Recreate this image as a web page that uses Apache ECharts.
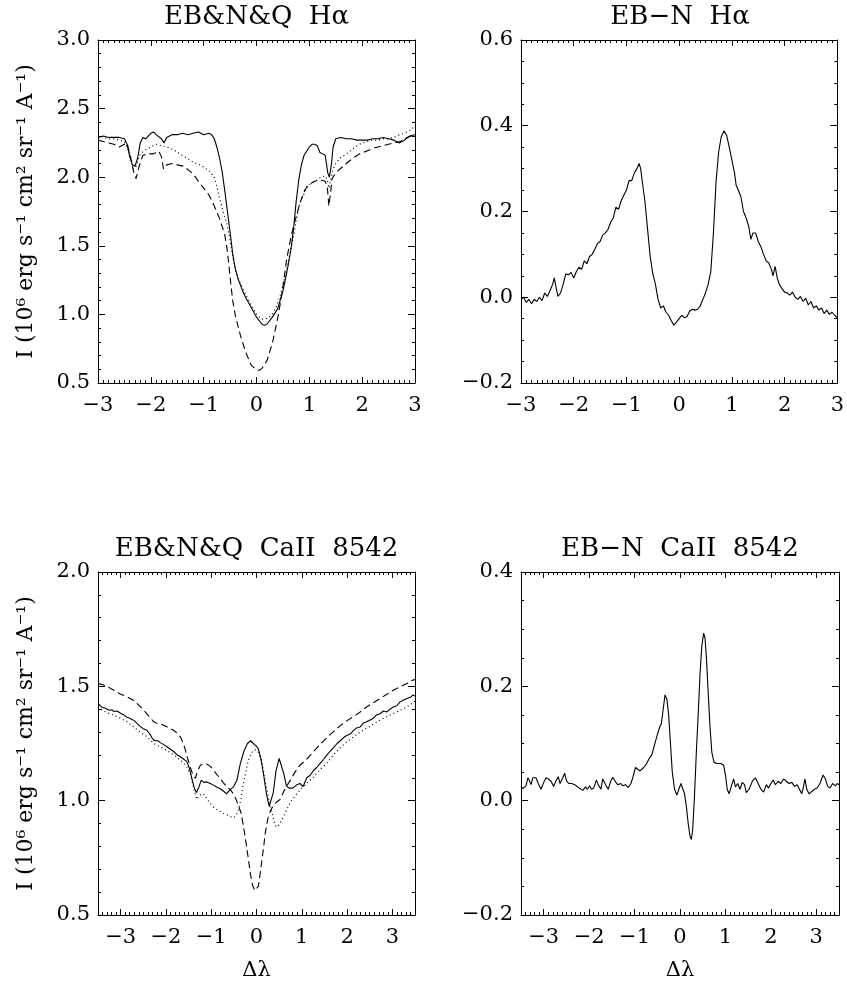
<!DOCTYPE html>
<html>
<head>
<meta charset="utf-8">
<script src="https://cdn.jsdelivr.net/npm/echarts@6/dist/echarts.min.js"></script>
<style>
html,body{margin:0;padding:0;background:#fff;}
#chart{width:847px;height:982px;}
</style>
</head>
<body>
<div id="chart"></div>
<script>
// ---------- DATA ----------
const TITLES = ['EB&N&Q  H\u03b1', 'EB\u2212N  H\u03b1', 'EB&N&Q  CaII  8542', 'EB\u2212N  CaII  8542'];
const Y_NAME = 'I (10\u2076 erg s\u207b\u00b9 cm\u00b2 sr\u207b\u00b9 A\u207b\u00b9)';
const X_NAME = '\u0394\u03bb';

const X_TICKS_HA = [-3, -2, -1, 0, 1, 2, 3];
const X_TICKS_CA = [-3, -2, -1, 0, 1, 2, 3];
const Y_TICKS_HA = [0.5, 1.0, 1.5, 2.0, 2.5, 3.0];
const Y_TICKS_HA_DIFF = [-0.2, 0.0, 0.2, 0.4, 0.6];
const Y_TICKS_CA = [0.5, 1.0, 1.5, 2.0];
const Y_TICKS_CA_DIFF = [-0.2, 0.0, 0.2, 0.4];

// Halpha: EB (solid), N (dotted), Q (dashed)
const HA_SOLID = [
[-3.0,2.29],[-2.9,2.30],[-2.8,2.29],[-2.7,2.29],[-2.6,2.29],[-2.5,2.28],[-2.45,2.24],[-2.4,2.15],[-2.35,2.09],[-2.3,2.08],
[-2.25,2.14],[-2.2,2.25],[-2.15,2.29],[-2.1,2.28],[-2.0,2.32],[-1.95,2.33],[-1.9,2.31],[-1.8,2.28],[-1.75,2.25],[-1.7,2.29],
[-1.6,2.31],[-1.5,2.31],[-1.4,2.32],[-1.3,2.31],[-1.2,2.32],[-1.1,2.33],[-1.0,2.31],[-0.9,2.32],[-0.85,2.31],[-0.8,2.28],
[-0.75,2.22],[-0.7,2.14],[-0.65,2.04],[-0.6,1.90],[-0.55,1.75],[-0.5,1.60],[-0.45,1.44],[-0.4,1.33],[-0.35,1.26],[-0.3,1.21],
[-0.25,1.16],[-0.2,1.12],[-0.1,1.05],[0.0,0.98],[0.1,0.93],[0.15,0.92],[0.2,0.93],[0.3,0.98],[0.4,1.04],[0.5,1.17],
[0.55,1.26],[0.6,1.36],[0.65,1.47],[0.7,1.62],[0.75,1.82],[0.8,1.98],[0.85,2.09],[0.9,2.16],[1.0,2.22],[1.05,2.24],
[1.1,2.24],[1.15,2.23],[1.2,2.18],[1.25,2.17],[1.3,2.16],[1.35,2.03],[1.38,2.00],[1.42,2.10],[1.45,2.22],[1.5,2.28],
[1.6,2.29],[1.7,2.28],[1.8,2.28],[1.9,2.27],[2.0,2.27],[2.1,2.27],[2.2,2.28],[2.3,2.28],[2.4,2.29],[2.5,2.28],
[2.6,2.27],[2.7,2.25],[2.8,2.27],[2.9,2.30],[3.0,2.31]
];
const HA_DOTTED = [
[-3.0,2.31],[-2.9,2.29],[-2.8,2.28],[-2.7,2.28],[-2.6,2.27],[-2.5,2.26],[-2.4,2.18],[-2.33,2.06],[-2.28,2.08],[-2.2,2.17],
[-2.1,2.20],[-2.0,2.22],[-1.9,2.24],[-1.8,2.23],[-1.7,2.22],[-1.57,2.20],[-1.45,2.17],[-1.32,2.14],[-1.2,2.11],[-1.07,2.09],
[-0.95,2.06],[-0.88,2.04],[-0.8,2.00],[-0.75,1.93],[-0.7,1.85],[-0.62,1.73],[-0.56,1.66],[-0.5,1.54],[-0.44,1.40],[-0.38,1.30],
[-0.31,1.23],[-0.2,1.14],[-0.12,1.08],[0.0,1.00],[0.1,0.965],[0.2,0.97],[0.3,1.00],[0.38,1.06],[0.45,1.14],[0.5,1.21],
[0.57,1.32],[0.63,1.44],[0.7,1.57],[0.76,1.70],[0.82,1.81],[0.9,1.88],[0.95,1.93],[1.05,1.96],[1.14,1.98],[1.22,2.00],
[1.3,2.01],[1.34,1.98],[1.37,1.92],[1.4,1.97],[1.45,2.06],[1.5,2.10],[1.58,2.14],[1.7,2.17],[1.8,2.20],[1.95,2.24],
[2.08,2.26],[2.2,2.27],[2.3,2.27],[2.4,2.28],[2.5,2.28],[2.6,2.29],[2.72,2.31],[2.8,2.32],[2.9,2.34],[3.0,2.37]
];
const HA_DASHED = [
[-3.0,2.27],[-2.9,2.26],[-2.8,2.25],[-2.7,2.24],[-2.6,2.22],[-2.5,2.24],[-2.45,2.25],[-2.38,2.14],[-2.32,2.03],[-2.28,1.99],
[-2.22,2.08],[-2.15,2.16],[-2.05,2.17],[-1.95,2.17],[-1.85,2.19],[-1.8,2.15],[-1.76,2.06],[-1.7,2.09],[-1.6,2.10],[-1.5,2.09],
[-1.38,2.08],[-1.28,2.05],[-1.19,2.02],[-1.1,1.97],[-1.0,1.92],[-0.9,1.87],[-0.81,1.80],[-0.7,1.70],[-0.6,1.58],[-0.55,1.46],
[-0.5,1.27],[-0.45,1.10],[-0.4,0.99],[-0.3,0.84],[-0.2,0.72],[-0.1,0.63],[0.0,0.595],[0.05,0.593],[0.1,0.605],[0.2,0.665],
[0.3,0.79],[0.4,0.97],[0.45,1.08],[0.5,1.20],[0.57,1.40],[0.65,1.56],[0.7,1.64],[0.82,1.81],[0.92,1.91],[1.01,1.95],
[1.1,1.97],[1.2,1.98],[1.3,1.97],[1.34,1.93],[1.37,1.79],[1.40,1.88],[1.43,1.99],[1.5,2.03],[1.58,2.06],[1.7,2.10],
[1.83,2.14],[1.95,2.17],[2.08,2.19],[2.2,2.21],[2.3,2.22],[2.4,2.23],[2.5,2.24],[2.6,2.25],[2.72,2.26],[2.85,2.29],
[3.0,2.31]
];
// Halpha difference EB - N
const HA_DIFF = [
[-3.00,-0.005],[-2.95,0.000],[-2.90,-0.012],[-2.85,-0.005],[-2.80,-0.015],[-2.75,-0.005],[-2.70,-0.010],[-2.65,0.000],[-2.60,-0.008],[-2.55,0.010],
[-2.50,0.002],[-2.45,0.015],[-2.40,0.030],[-2.37,0.045],[-2.33,0.020],[-2.30,0.002],[-2.27,-0.002],[-2.25,0.010],[-2.20,0.030],[-2.15,0.055],
[-2.10,0.052],[-2.05,0.058],[-2.00,0.045],[-1.95,0.060],[-1.90,0.070],[-1.85,0.065],[-1.80,0.085],[-1.75,0.078],[-1.70,0.095],[-1.65,0.100],
[-1.60,0.112],[-1.55,0.125],[-1.50,0.130],[-1.45,0.145],[-1.40,0.150],[-1.35,0.158],[-1.30,0.175],[-1.25,0.185],[-1.20,0.210],[-1.15,0.205],
[-1.10,0.225],[-1.05,0.238],[-1.00,0.250],[-0.95,0.272],[-0.90,0.272],[-0.85,0.290],[-0.80,0.300],[-0.76,0.312],[-0.73,0.300],[-0.70,0.270],
[-0.65,0.225],[-0.60,0.160],[-0.55,0.095],[-0.50,0.055],[-0.45,0.030],[-0.40,-0.005],[-0.35,-0.025],[-0.30,-0.020],[-0.25,-0.035],[-0.20,-0.042],
[-0.15,-0.055],[-0.10,-0.065],[-0.05,-0.058],[0.00,-0.050],[0.05,-0.042],[0.10,-0.048],[0.15,-0.045],[0.20,-0.032],[0.25,-0.028],[0.30,-0.030],
[0.35,-0.028],[0.40,-0.020],[0.45,-0.005],[0.50,0.010],[0.55,0.030],[0.60,0.060],[0.65,0.150],[0.70,0.270],[0.75,0.340],[0.80,0.375],
[0.85,0.388],[0.90,0.378],[0.95,0.350],[1.00,0.320],[1.05,0.290],[1.08,0.262],[1.12,0.250],[1.17,0.235],[1.22,0.200],[1.27,0.185],
[1.32,0.165],[1.36,0.135],[1.40,0.150],[1.45,0.150],[1.50,0.130],[1.55,0.118],[1.60,0.100],[1.65,0.085],[1.70,0.080],[1.75,0.065],
[1.78,0.050],[1.82,0.072],[1.86,0.045],[1.90,0.030],[1.95,0.020],[2.00,0.012],[2.05,0.010],[2.10,0.005],[2.15,0.012],[2.20,0.000],
[2.25,-0.005],[2.30,0.002],[2.35,-0.010],[2.40,-0.002],[2.45,-0.018],[2.50,-0.010],[2.55,-0.025],[2.60,-0.020],[2.65,-0.030],[2.70,-0.025],
[2.75,-0.038],[2.80,-0.030],[2.85,-0.040],[2.90,-0.035],[2.95,-0.042],[3.00,-0.048]
];
// CaII 8542: EB (solid), N (dotted), Q (dashed)
const CA_SOLID = [
[-3.50,1.425],[-3.42,1.410],[-3.35,1.405],[-3.30,1.400],[-3.25,1.395],[-3.20,1.398],[-3.15,1.390],[-3.08,1.392],[-3.00,1.382],[-2.93,1.375],
[-2.86,1.365],[-2.80,1.360],[-2.75,1.355],[-2.70,1.350],[-2.64,1.338],[-2.57,1.325],[-2.50,1.315],[-2.42,1.308],[-2.35,1.290],[-2.30,1.272],
[-2.25,1.262],[-2.18,1.262],[-2.13,1.255],[-2.05,1.245],[-1.98,1.236],[-1.90,1.225],[-1.83,1.215],[-1.75,1.200],[-1.68,1.192],[-1.60,1.180],
[-1.54,1.172],[-1.48,1.140],[-1.43,1.100],[-1.38,1.060],[-1.33,1.035],[-1.28,1.055],[-1.22,1.090],[-1.16,1.080],[-1.10,1.082],[-1.02,1.075],
[-0.95,1.068],[-0.88,1.060],[-0.80,1.052],[-0.72,1.040],[-0.66,1.030],[-0.60,1.045],[-0.51,1.060],[-0.43,1.090],[-0.36,1.160],[-0.28,1.215],
[-0.20,1.250],[-0.13,1.262],[-0.07,1.250],[-0.02,1.242],[0.04,1.228],[0.10,1.180],[0.16,1.110],[0.22,1.030],[0.28,0.975],[0.32,0.975],
[0.37,1.035],[0.43,1.130],[0.50,1.185],[0.54,1.185],[0.60,1.120],[0.66,1.065],[0.72,1.055],[0.80,1.055],[0.88,1.068],[0.96,1.075],
[1.03,1.062],[1.11,1.100],[1.18,1.110],[1.26,1.132],[1.33,1.145],[1.40,1.162],[1.48,1.180],[1.55,1.198],[1.62,1.215],[1.70,1.232],
[1.78,1.250],[1.85,1.262],[1.92,1.275],[1.99,1.285],[2.06,1.290],[2.14,1.306],[2.21,1.318],[2.29,1.322],[2.36,1.340],[2.43,1.345],
[2.50,1.352],[2.58,1.360],[2.65,1.375],[2.73,1.380],[2.80,1.392],[2.88,1.388],[2.95,1.400],[3.02,1.410],[3.10,1.415],[3.17,1.432],
[3.25,1.440],[3.32,1.447],[3.40,1.452],[3.45,1.462],[3.50,1.458]
];
const CA_DOTTED = [
[-3.50,1.410],[-3.40,1.395],[-3.30,1.385],[-3.15,1.374],[-3.00,1.360],[-2.86,1.345],[-2.71,1.322],[-2.57,1.300],[-2.42,1.280],[-2.27,1.250],
[-2.13,1.235],[-1.98,1.220],[-1.83,1.200],[-1.68,1.178],[-1.54,1.150],[-1.46,1.115],[-1.38,1.050],[-1.32,1.005],[-1.25,1.025],[-1.17,1.030],
[-1.05,0.995],[-0.95,0.972],[-0.85,0.958],[-0.73,0.944],[-0.62,0.935],[-0.51,0.925],[-0.45,0.935],[-0.40,0.960],[-0.34,1.010],[-0.29,1.075],
[-0.23,1.130],[-0.18,1.177],[-0.12,1.205],[-0.07,1.220],[-0.02,1.222],[0.04,1.212],[0.10,1.180],[0.15,1.134],[0.20,1.075],[0.26,1.017],
[0.30,0.975],[0.34,0.950],[0.38,0.915],[0.43,0.885],[0.48,0.890],[0.52,0.900],[0.58,0.925],[0.63,0.944],[0.70,0.975],[0.78,1.002],
[0.87,1.025],[0.96,1.046],[1.10,1.075],[1.26,1.104],[1.40,1.135],[1.55,1.163],[1.70,1.200],[1.85,1.232],[2.00,1.258],[2.14,1.279],
[2.29,1.300],[2.43,1.316],[2.58,1.335],[2.73,1.352],[2.88,1.368],[3.02,1.381],[3.17,1.395],[3.32,1.410],[3.50,1.435]
];
const CA_DASHED = [
[-3.50,1.512],[-3.40,1.508],[-3.30,1.500],[-3.20,1.488],[-3.10,1.478],[-3.00,1.465],[-2.90,1.458],[-2.80,1.448],[-2.71,1.438],[-2.60,1.418],
[-2.49,1.396],[-2.38,1.370],[-2.27,1.345],[-2.20,1.338],[-2.13,1.336],[-2.05,1.330],[-1.98,1.323],[-1.90,1.315],[-1.83,1.308],[-1.75,1.295],
[-1.68,1.278],[-1.62,1.252],[-1.57,1.221],[-1.52,1.185],[-1.46,1.145],[-1.40,1.110],[-1.35,1.098],[-1.30,1.130],[-1.24,1.155],[-1.17,1.162],
[-1.10,1.160],[-1.02,1.150],[-0.95,1.134],[-0.88,1.115],[-0.80,1.097],[-0.73,1.078],[-0.66,1.062],[-0.58,1.048],[-0.51,1.030],[-0.45,1.005],
[-0.40,0.980],[-0.34,0.945],[-0.29,0.890],[-0.23,0.815],[-0.18,0.745],[-0.13,0.675],[-0.09,0.632],[-0.04,0.607],[0.00,0.600],[0.04,0.625],
[0.08,0.680],[0.12,0.740],[0.16,0.800],[0.19,0.855],[0.23,0.900],[0.26,0.930],[0.32,0.960],[0.37,0.978],[0.45,0.995],[0.52,1.005],
[0.60,1.040],[0.67,1.065],[0.75,1.090],[0.82,1.115],[0.90,1.140],[0.96,1.155],[1.10,1.180],[1.26,1.215],[1.40,1.245],[1.55,1.275],
[1.70,1.302],[1.85,1.328],[2.00,1.350],[2.14,1.367],[2.29,1.388],[2.43,1.410],[2.58,1.428],[2.73,1.447],[2.88,1.465],[3.02,1.483],
[3.17,1.498],[3.32,1.512],[3.42,1.525],[3.50,1.530]
];
// CaII difference EB - N
const CA_DIFF = [
[-3.50,0.025],[-3.46,0.021],[-3.42,0.018],[-3.39,0.026],[-3.35,0.040],[-3.32,0.036],[-3.28,0.028],[-3.24,0.040],[-3.20,0.038],[-3.17,0.040],
[-3.12,0.030],[-3.06,0.020],[-3.00,0.032],[-2.95,0.040],[-2.90,0.038],[-2.84,0.034],[-2.78,0.025],[-2.73,0.035],[-2.68,0.042],[-2.64,0.030],
[-2.58,0.040],[-2.54,0.048],[-2.50,0.035],[-2.45,0.030],[-2.38,0.030],[-2.30,0.027],[-2.22,0.022],[-2.14,0.018],[-2.08,0.024],[-2.04,0.020],
[-1.99,0.026],[-1.95,0.020],[-1.90,0.022],[-1.84,0.036],[-1.80,0.028],[-1.74,0.020],[-1.70,0.038],[-1.66,0.040],[-1.62,0.025],[-1.58,0.020],
[-1.52,0.035],[-1.48,0.041],[-1.42,0.033],[-1.37,0.028],[-1.30,0.030],[-1.26,0.026],[-1.20,0.028],[-1.14,0.023],[-1.08,0.030],[-1.04,0.040],
[-0.98,0.058],[-0.94,0.055],[-0.88,0.052],[-0.80,0.058],[-0.74,0.064],[-0.67,0.075],[-0.62,0.080],[-0.56,0.098],[-0.50,0.115],[-0.45,0.128],
[-0.41,0.135],[-0.37,0.160],[-0.33,0.185],[-0.29,0.178],[-0.25,0.150],[-0.21,0.100],[-0.17,0.050],[-0.12,0.020],[-0.07,0.010],[-0.03,0.012],
[0.02,0.030],[0.06,0.028],[0.10,0.012],[0.14,-0.010],[0.18,-0.040],[0.22,-0.062],[0.25,-0.068],[0.28,-0.050],[0.32,0.010],[0.36,0.085],
[0.40,0.150],[0.44,0.220],[0.48,0.270],[0.52,0.293],[0.55,0.285],[0.58,0.252],[0.62,0.190],[0.66,0.130],[0.70,0.085],[0.75,0.067],
[0.82,0.065],[0.90,0.065],[0.96,0.062],[1.00,0.045],[1.04,0.020],[1.08,0.012],[1.14,0.028],[1.18,0.038],[1.22,0.024],[1.27,0.030],
[1.32,0.020],[1.37,0.032],[1.42,0.028],[1.46,0.014],[1.52,0.020],[1.60,0.035],[1.66,0.040],[1.72,0.030],[1.78,0.020],[1.84,0.015],
[1.90,0.028],[1.95,0.022],[2.00,0.030],[2.05,0.036],[2.10,0.028],[2.16,0.034],[2.22,0.030],[2.28,0.038],[2.34,0.034],[2.40,0.030],
[2.46,0.032],[2.52,0.025],[2.58,0.028],[2.63,0.020],[2.68,0.012],[2.72,0.025],[2.75,0.038],[2.79,0.020],[2.84,0.012],[2.90,0.016],
[2.96,0.020],[3.02,0.022],[3.08,0.030],[3.15,0.045],[3.20,0.038],[3.25,0.025],[3.30,0.022],[3.36,0.030],[3.42,0.026],[3.46,0.030],
[3.50,0.028]
];

// ---------- LAYOUT / STYLE ----------
const FONT = 'DejaVu Serif';
const BLACK = '#000';
const GRIDS = [
  {left: 98, top: 40, width: 317, height: 343},
  {left: 521, top: 40, width: 318, height: 343},
  {left: 98, top: 572, width: 317, height: 343},
  {left: 521, top: 572, width: 318, height: 343}
];
function steps(lo, hi, st) {
  const out = []; const n = Math.round((hi - lo) / st);
  for (let i = 0; i <= n; i++) out.push(+(lo + i * st).toFixed(4));
  return out;
}
const PANELS = [
  {xmin: -3, xmax: 3, xMaj: X_TICKS_HA, xMinStep: 0.1, ymin: 0.5, ymax: 3.0, yMaj: Y_TICKS_HA, yMinStep: 0.1, yName: true, xName: false},
  {xmin: -3, xmax: 3, xMaj: X_TICKS_HA, xMinStep: 0.1, ymin: -0.2, ymax: 0.6, yMaj: Y_TICKS_HA_DIFF, yMinStep: 0.05, yName: false, xName: false},
  {xmin: -3.5, xmax: 3.5, xMaj: X_TICKS_CA, xMinStep: 0.1, ymin: 0.5, ymax: 2.0, yMaj: Y_TICKS_CA, yMinStep: 0.1, yName: true, xName: true},
  {xmin: -3.5, xmax: 3.5, xMaj: X_TICKS_CA, xMinStep: 0.1, ymin: -0.2, ymax: 0.4, yMaj: Y_TICKS_CA_DIFF, yMinStep: 0.05, yName: false, xName: true}
];
const fmtX = v => String(Math.round(v)).replace('-', '\u2212');
const fmtY = v => (Math.abs(v) < 1e-9 ? 0 : v).toFixed(1).replace('-', '\u2212');
const LABEL_SIZE = 21;

const xAxes = [], yAxes = [];
PANELS.forEach((p, g) => {
  const xMinor = steps(p.xmin, p.xmax, p.xMinStep);
  const yMinor = steps(p.ymin, p.ymax, p.yMinStep);
  ['bottom', 'top'].forEach(pos => {
    const main = pos === 'bottom';
    xAxes.push({
      type: 'value', gridIndex: g, position: pos, min: p.xmin, max: p.xmax,
      axisLine: {show: true, onZero: false, lineStyle: {color: BLACK, width: 1}},
      axisTick: {show: true, inside: true, length: 6, customValues: p.xMaj, lineStyle: {color: BLACK, width: 1}},
      axisLabel: main ? {show: true, customValues: p.xMaj, formatter: fmtX, color: BLACK, fontFamily: FONT, fontSize: LABEL_SIZE, margin: 12} : {show: false},
      splitLine: {show: false},
      name: (main && p.xName) ? X_NAME : '', nameLocation: 'middle', nameGap: 45,
      nameTextStyle: {color: BLACK, fontFamily: FONT, fontSize: LABEL_SIZE}
    });
    xAxes.push({
      type: 'value', gridIndex: g, position: pos, min: p.xmin, max: p.xmax,
      axisLine: {show: false, onZero: false},
      axisTick: {show: true, inside: true, length: 3, customValues: xMinor, lineStyle: {color: BLACK, width: 1}},
      axisLabel: {show: false}, splitLine: {show: false}
    });
  });
  ['left', 'right'].forEach(pos => {
    const main = pos === 'left';
    yAxes.push({
      type: 'value', gridIndex: g, position: pos, min: p.ymin, max: p.ymax,
      axisLine: {show: true, onZero: false, lineStyle: {color: BLACK, width: 1}},
      axisTick: {show: true, inside: true, length: 7, customValues: p.yMaj, lineStyle: {color: BLACK, width: 1}},
      axisLabel: main ? {show: true, customValues: p.yMaj, formatter: fmtY, color: BLACK, fontFamily: FONT, fontSize: LABEL_SIZE, margin: 8} : {show: false},
      splitLine: {show: false},
      name: (main && p.yName) ? Y_NAME : '', nameLocation: 'middle', nameGap: 61, nameRotate: 90,
      nameTextStyle: {color: BLACK, fontFamily: FONT, fontSize: 22}
    });
    yAxes.push({
      type: 'value', gridIndex: g, position: pos, min: p.ymin, max: p.ymax,
      axisLine: {show: false, onZero: false},
      axisTick: {show: true, inside: true, length: 3, customValues: yMinor, lineStyle: {color: BLACK, width: 1}},
      axisLabel: {show: false}, splitLine: {show: false}
    });
  });
});

const SOLID = {color: BLACK, width: 1.1, type: 'solid'};
const DOTTED = {color: BLACK, width: 1.2, type: [1, 3]};
const DASHED = {color: BLACK, width: 1.1, type: [7, 4]};
function line(data, g, style) {
  return {type: 'line', xAxisIndex: 4 * g, yAxisIndex: 4 * g, data: data, symbol: 'none',
          showSymbol: false, lineStyle: style, silent: true, animation: false, clip: true};
}

const titleGraphics = GRIDS.map((gr, i) => ({
  type: 'text', x: gr.left + gr.width / 2, y: gr.top - 23,
  style: {text: TITLES[i], fill: BLACK, font: '26px "' + FONT + '"', textAlign: 'center', textVerticalAlign: 'middle'}
}));

const chart = echarts.init(document.getElementById('chart'), null, {renderer: 'canvas'});
chart.setOption({
  backgroundColor: '#fff',
  animation: false,
  grid: GRIDS.map(g => Object.assign({containLabel: false}, g)),
  xAxis: xAxes,
  yAxis: yAxes,
  graphic: titleGraphics,
  series: [
    line(HA_SOLID, 0, SOLID), line(HA_DOTTED, 0, DOTTED), line(HA_DASHED, 0, DASHED),
    line(HA_DIFF, 1, SOLID),
    line(CA_SOLID, 2, SOLID), line(CA_DOTTED, 2, DOTTED), line(CA_DASHED, 2, DASHED),
    line(CA_DIFF, 3, SOLID)
  ]
});
</script>
</body>
</html>
